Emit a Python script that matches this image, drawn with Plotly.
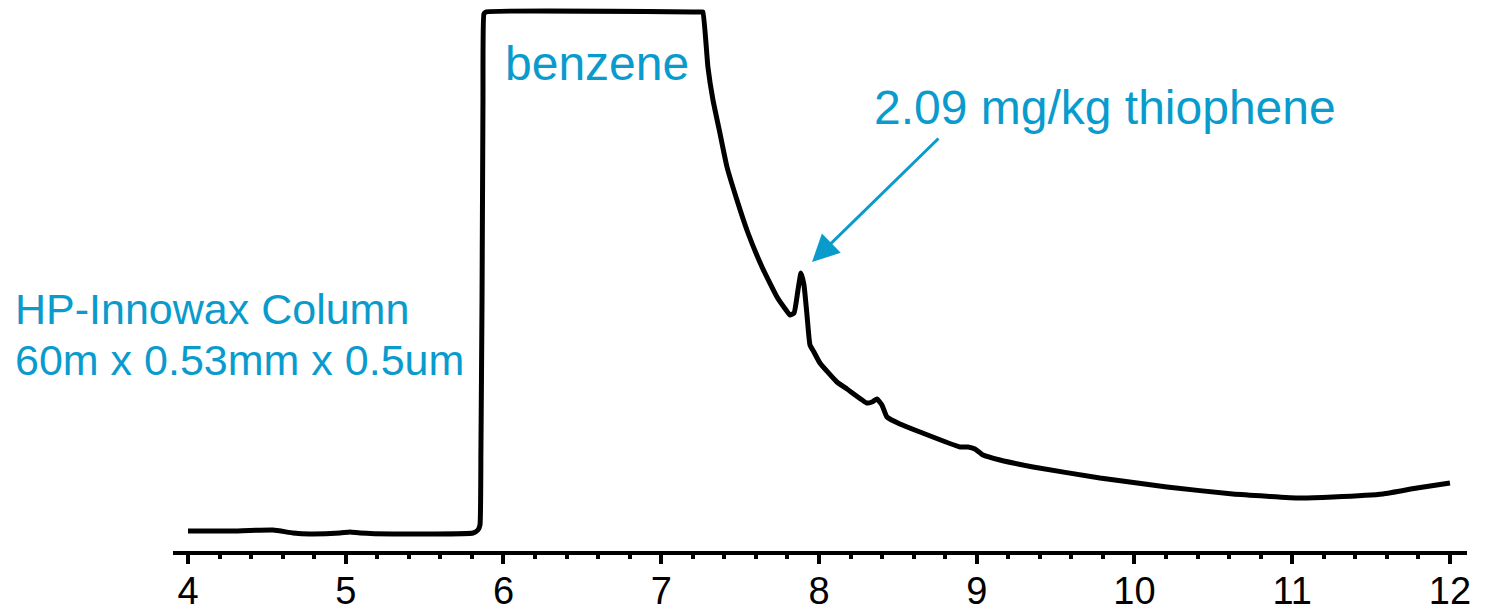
import plotly.graph_objects as go

# Retention time (min) and detector signal (arbitrary units)
time_min = [4.000, 4.266, 4.539, 4.666, 4.773, 4.964, 5.027, 5.090, 5.300, 5.807,
            5.838, 5.851, 5.857, 5.864, 5.870, 5.876, 5.889, 7.258, 7.265, 7.296,
            7.328, 7.372, 7.417, 7.480, 7.550, 7.639, 7.734, 7.791, 7.816, 7.842,
            7.867, 7.886, 7.905, 7.924, 7.943, 7.968, 8.006, 8.114, 8.178, 8.304,
            8.336, 8.368, 8.399, 8.431, 8.513, 8.640, 8.894, 8.945, 8.989, 9.040,
            9.147, 9.357, 9.781, 10.206, 10.624, 11.049, 11.258, 11.575, 11.791, 12.000]
signal = [20, 20, 21, 18, 17, 18, 19, 18, 17, 18,
          21, 26, 101, 251, 451, 537, 539, 539, 539, 484,
          451, 418, 384, 351, 318, 284, 254, 241, 236, 238,
          261, 278, 266, 236, 206, 199, 188, 169, 162, 148,
          149, 152, 146, 134, 127, 119, 104, 104, 102, 96,
          91, 84, 73, 64, 57, 53, 54, 57, 63, 68]

tick_vals = [4, 5, 6, 7, 8, 9, 10, 11, 12]
tick_text = ["4", "5", "6", "7", "8", "9", "10", "11", "12"]

BLUE = "#0A9BCD"
FONT = "Liberation Sans, Arial, sans-serif"

fig = go.Figure()
fig.add_trace(go.Scatter(
    x=time_min, y=signal, mode="lines",
    line=dict(color="black", width=5, shape="spline", smoothing=0.4),
    hoverinfo="skip", showlegend=False,
))

fig.update_layout(
    width=1494, height=611,
    margin=dict(l=173, r=27, t=0, b=60),
    paper_bgcolor="white", plot_bgcolor="white",
    xaxis=dict(
        range=[3.905, 12.108], automargin=False,
        tickvals=tick_vals, ticktext=tick_text,
        showline=True, linecolor="black", linewidth=4,
        ticks="outside", ticklen=9, tickwidth=4, tickcolor="black",
        ticklabelstandoff=-6,
        minor=dict(dtick=0.2, ticks="outside", ticklen=4, tickwidth=4, tickcolor="black"),
        showgrid=False, zeroline=False,
        tickfont=dict(family=FONT, size=38, color="black"),
    ),
    yaxis=dict(range=[0, 551], visible=False, showgrid=False, zeroline=False,
               automargin=False),
    annotations=[
        dict(x=5.995, y=488, xref="x", yref="y", text="benzene", showarrow=False,
             xanchor="left", yanchor="middle",
             font=dict(family=FONT, size=48, color=BLUE)),
        dict(x=8.336, y=444, xref="x", yref="y", text="2.09 mg/kg thiophene", showarrow=False,
             xanchor="left", yanchor="middle",
             font=dict(family=FONT, size=48, color=BLUE)),
        dict(x=-0.124, y=0.44, xref="paper", yref="paper", text="HP-Innowax Column",
             showarrow=False, xanchor="left", yanchor="middle",
             font=dict(family=FONT, size=43, color=BLUE)),
        dict(x=-0.124, y=0.346, xref="paper", yref="paper", text="60m x 0.53mm x 0.5um",
             showarrow=False, xanchor="left", yanchor="middle",
             font=dict(family=FONT, size=43, color=BLUE)),
        dict(x=7.956, y=289, xref="x", yref="y", ax=8.767, ay=414, axref="x", ayref="y",
             text="", showarrow=True, arrowhead=2, arrowsize=1.8, arrowwidth=3,
             arrowcolor=BLUE, standoff=0),
    ],
)

fig.write_html("out.html")
